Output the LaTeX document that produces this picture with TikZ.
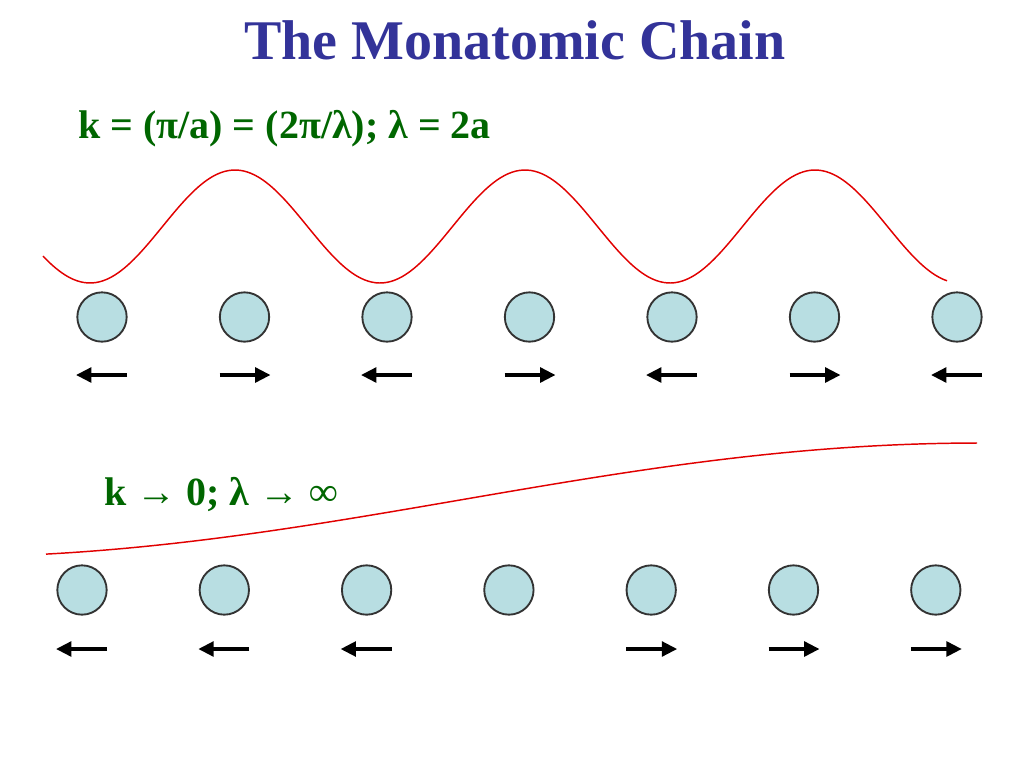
\documentclass[tikz,border=0pt]{standalone}
\usepackage{fontspec}
\setmainfont{Liberation Serif}
\usetikzlibrary{arrows.meta}

\definecolor{titelblau}{RGB}{51,51,153}
\definecolor{textgruen}{RGB}{0,102,0}
\definecolor{atomblau}{RGB}{184,222,226}
\definecolor{wellenrot}{RGB}{225,0,0}

\tikzset{
    atom/.style={circle, draw=black!80, line width=1.4pt, fill=atomblau,
        minimum size=37pt, inner sep=0pt},
    auslenkung/.style={line width=2.6pt, -{Triangle[length=11.5pt,width=11pt]}},
    welle/.style={wellenrot, line width=1.1pt},
    formel/.style={anchor=base west, textgruen, font=\fontsize{30}{36}\selectfont\bfseries, inner sep=0pt},
}

\begin{document}
\begin{tikzpicture}[x=0.75pt, y=-0.75pt]
    \useasboundingbox (0,0) rectangle (1024,768);

    % Abstand der Atome
    \def\s{142.5}
    \def\t{142.3}

    % Titel
    \node[anchor=base, titelblau, font=\fontsize{42}{50}\selectfont\bfseries, inner sep=0pt]
        (titel) at (515,59) {The Monatomic Chain};

    % Kurze Wellenlaenge: k = pi/a
    \node[formel] (formel1) at (78,138) {k = (π/a) = (2π/λ); λ = 2a};
    \draw[welle] plot[domain=43:947, samples=240, smooth]
        (\x, {226.5 + 56.5*cos((\x-90)/290*360)});

    \foreach \d [count=\i from 0] in {-1,1,-1,1,-1,1,-1} {
        \node[atom] (a\i) at (102+\i*\s, 317) {};
        \draw[auslenkung] ([shift={(-\d*25,58)}]a\i.center) -- ([shift={(\d*26,58)}]a\i.center);
    }

    % Lange Wellenlaenge: k -> 0
    \node[formel] (formel2) at (104,505) {k → 0; λ → ∞};
    \draw[welle] plot[domain=46:977, samples=160, smooth]
        (\x, {500 + 57*cos((\x+60)/1040*180)});

    \foreach \d [count=\i from 0] in {-1,-1,-1,0,1,1,1} {
        \node[atom] (b\i) at (82+\i*\t, 590) {};
        \ifnum\d=0\else
            \draw[auslenkung] ([shift={(-\d*25,59)}]b\i.center) -- ([shift={(\d*26,59)}]b\i.center);
        \fi
    }
\end{tikzpicture}
\end{document}
